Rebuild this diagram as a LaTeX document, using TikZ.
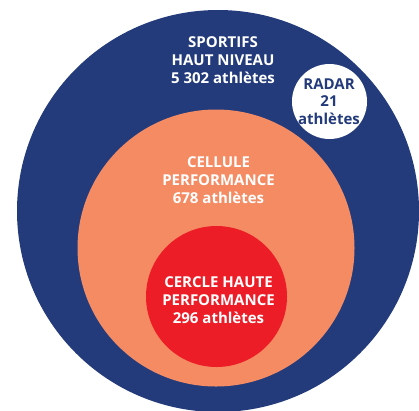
\documentclass[tikz,border=0pt]{standalone}
\usepackage{fontspec}
\setmainfont{Open Sans}
\definecolor{navy}{HTML}{233B7B}
\definecolor{salmon}{HTML}{F48B63}
\definecolor{redc}{HTML}{EC1D27}
\begin{document}
\begin{tikzpicture}[x=1pt,y=-1pt,
  lbl/.style={font=\bfseries\fontsize{15}{17.7}\selectfont, align=center, inner sep=0pt},
  disc/.style={circle, inner sep=0pt, draw=none}]
\useasboundingbox (0,0) rectangle (419,410);
\clip (0,0) rectangle (419,410);
\node[disc, fill=navy, minimum size=402pt] (sport) at (218,211) {};
\node[disc, fill=white, minimum size=75pt] (radar) at (329.5,101.5) {};
\node[disc, fill=salmon, minimum size=277pt] (cell) at (216,248) {};
\node[disc, fill=redc, minimum size=141pt] (cercle) at (216.5,296.5) {};
\node[lbl, text=white] (tsport) at (223,60) {SPORTIFS\\HAUT NIVEAU\\5 302 athlètes};
\node[lbl, text=navy] (tradar) at (329,101.5) {RADAR\\21\\athlètes};
\node[lbl, text=white] (tcell) at (218.5,180) {CELLULE\\PERFORMANCE\\678 athlètes};
\node[lbl, text=white] (tcercle) at (218.5,300) {CERCLE HAUTE\\PERFORMANCE\\296 athlètes};
\end{tikzpicture}
\end{document}
